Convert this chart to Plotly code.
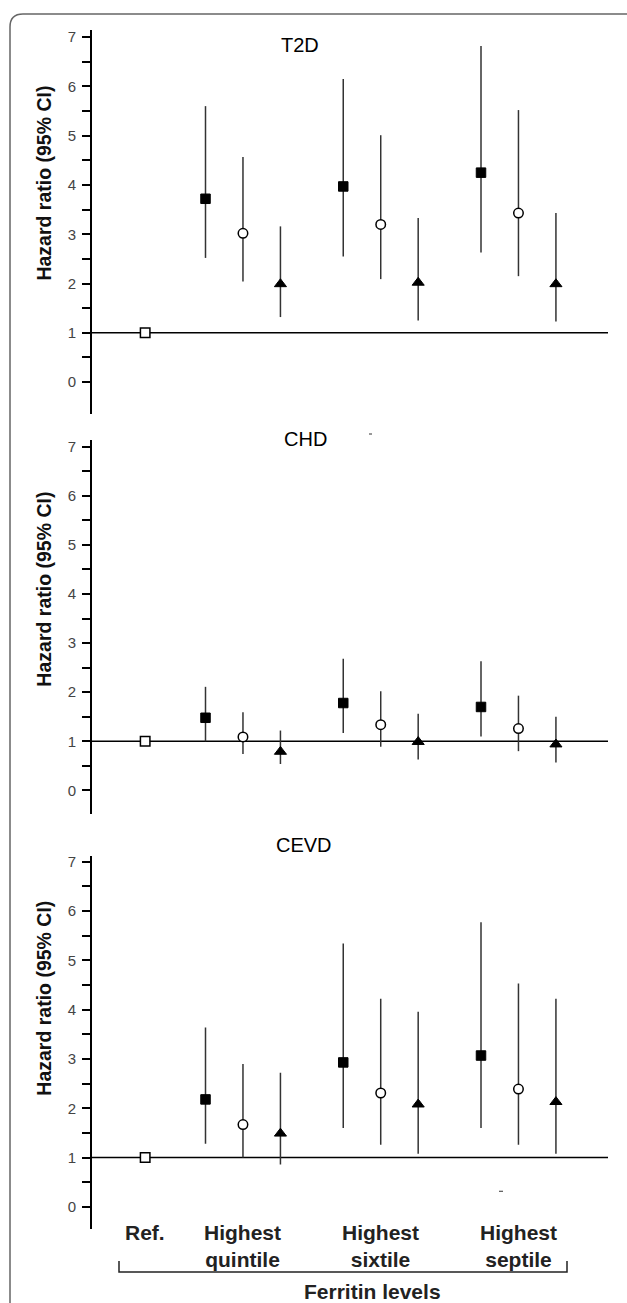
import plotly.graph_objects as go

W, H = 627, 1303

# ---------------- data ----------------
groups = ["Ref.", "Highest<br>quintile", "Highest<br>sixtile", "Highest<br>septile"]
outcomes = ["T2D", "CHD", "CEVD"]
ref_value = 1.0

# T2D
t2d_sq = [3.72, 3.97, 4.25]
t2d_sq_lo = [2.52, 2.55, 2.63]
t2d_sq_hi = [5.60, 6.15, 6.82]
t2d_ci = [3.02, 3.20, 3.43]
t2d_ci_lo = [2.04, 2.09, 2.15]
t2d_ci_hi = [4.57, 5.01, 5.52]
t2d_tr = [1.99, 2.02, 1.99]
t2d_tr_lo = [1.32, 1.25, 1.23]
t2d_tr_hi = [3.16, 3.33, 3.43]

# CHD
chd_sq = [1.48, 1.78, 1.70]
chd_sq_lo = [1.00, 1.17, 1.10]
chd_sq_hi = [2.11, 2.68, 2.63]
chd_ci = [1.09, 1.34, 1.26]
chd_ci_lo = [0.74, 0.89, 0.80]
chd_ci_hi = [1.59, 2.02, 1.93]
chd_tr = [0.79, 0.99, 0.94]
chd_tr_lo = [0.54, 0.63, 0.57]
chd_tr_hi = [1.22, 1.56, 1.50]

# CEVD
cevd_sq = [2.18, 2.93, 3.07]
cevd_sq_lo = [1.28, 1.60, 1.60]
cevd_sq_hi = [3.64, 5.34, 5.77]
cevd_ci = [1.67, 2.31, 2.39]
cevd_ci_lo = [1.00, 1.26, 1.26]
cevd_ci_hi = [2.90, 4.22, 4.53]
cevd_tr = [1.49, 2.08, 2.13]
cevd_tr_lo = [0.86, 1.08, 1.08]
cevd_tr_hi = [2.72, 3.96, 4.22]

ytick_vals = [v / 2 for v in range(0, 15)]
ytick_text = [str(int(v)) if v == int(v) else "" for v in ytick_vals]

panels = [
    [(t2d_sq, t2d_sq_lo, t2d_sq_hi), (t2d_ci, t2d_ci_lo, t2d_ci_hi), (t2d_tr, t2d_tr_lo, t2d_tr_hi)],
    [(chd_sq, chd_sq_lo, chd_sq_hi), (chd_ci, chd_ci_lo, chd_ci_hi), (chd_tr, chd_tr_lo, chd_tr_hi)],
    [(cevd_sq, cevd_sq_lo, cevd_sq_hi), (cevd_ci, cevd_ci_lo, cevd_ci_hi), (cevd_tr, cevd_tr_lo, cevd_tr_hi)],
]

# ---------------- layout constants ----------------
GROUP_POS = [0.29, 1.0, 2.0, 3.0]      # category centres on the x scale
SERIES_OFFSET = [-0.272, 0.0, 0.272]   # square, circle, triangle within a group
XRANGE = [-0.096, 3.65]
XDOM = [92 / W, 608 / W]
# (top px, bottom px, y-range)
PANEL_PX = [(27, 412, [-0.648, 7.146]),
            (438.3, 812.7, [-0.476, 7.13]),
            (855, 1229.3, [-0.457, 7.115])]
TITLE_PX = [(300, 42), (305, 437), (304, 844)]
YTITLE_PX = [181, 588, 998]

def py(p):
    return 1 - p / H

def px(p):
    return p / W

marker_styles = [
    dict(symbol="square", size=9.5, color="black", line=dict(color="black", width=1)),
    dict(symbol="circle", size=9.5, color="white", line=dict(color="black", width=1.5)),
    dict(symbol="triangle-up", size=10.5, color="black", line=dict(color="black", width=1)),
]

fig = go.Figure()
layout = dict(
    width=W, height=H,
    margin=dict(l=0, r=0, t=0, b=0),
    paper_bgcolor="white", plot_bgcolor="white",
    showlegend=False,
    font=dict(family="Arial, Liberation Sans, sans-serif", color="black"),
)
shapes = []
annotations = []

for i, series in enumerate(panels):
    k = "" if i == 0 else str(i + 1)
    xa, ya = "x" + k, "y" + k
    top, bot, yr = PANEL_PX[i]
    layout["xaxis" + k] = dict(domain=XDOM, range=XRANGE, visible=False, anchor=ya, fixedrange=True)
    layout["yaxis" + k] = dict(
        domain=[py(bot), py(top)], range=yr, anchor=xa,
        showline=True, linecolor="black", linewidth=2,
        ticks="outside", ticklen=8, tickwidth=1.5, tickcolor="black",
        tickvals=ytick_vals, ticktext=ytick_text,
        tickfont=dict(size=15, color="#444", family="Arial, Liberation Sans, sans-serif"),
        showgrid=False, zeroline=False, ticklabelstandoff=3, fixedrange=True,
    )
    # reference line at HR = 1
    shapes.append(dict(type="line", xref=xa + " domain", yref=ya, x0=0, x1=1,
                       y0=ref_value, y1=ref_value, line=dict(color="black", width=1.5),
                       layer="below"))
    for j, (vals, lo, hi) in enumerate(series):
        xs = [GROUP_POS[g + 1] + SERIES_OFFSET[j] for g in range(len(vals))]
        fig.add_trace(go.Scatter(
            x=xs, y=vals, mode="markers", xaxis=xa, yaxis=ya,
            marker=marker_styles[j],
            error_y=dict(type="data", symmetric=False,
                         array=[h - v for h, v in zip(hi, vals)],
                         arrayminus=[v - l for v, l in zip(vals, lo)],
                         width=0, thickness=1.5, color="#333"),
            cliponaxis=False,
        ))
    # reference category
    fig.add_trace(go.Scatter(
        x=[GROUP_POS[0]], y=[ref_value], mode="markers", xaxis=xa, yaxis=ya,
        marker=dict(symbol="square", size=9.5, color="white", line=dict(color="black", width=1.5)),
    ))
    tx, ty = TITLE_PX[i]
    annotations.append(dict(text=outcomes[i], x=px(tx), y=py(ty), xref="paper", yref="paper",
                            showarrow=False, xanchor="center", yanchor="middle",
                            font=dict(size=20, color="black")))
    annotations.append(dict(text="<b>Hazard ratio (95% CI)</b>", x=px(44), y=py(YTITLE_PX[i]),
                            xref="paper", yref="paper", showarrow=False, textangle=-90,
                            xanchor="center", yanchor="middle",
                            font=dict(size=19.5, color="#111")))

# category labels under the bottom panel
for g, lab in enumerate(groups):
    annotations.append(dict(text="<b>" + lab + "</b>", x=GROUP_POS[g], xref="x3",
                            y=py(1219), yref="paper", showarrow=False,
                            xanchor="center", yanchor="top", align="center",
                            font=dict(size=21, color="#222")))
annotations.append(dict(text="<b>Ferritin levels</b>", x=px(372), y=py(1291), xref="paper",
                        yref="paper", showarrow=False, xanchor="center", yanchor="middle",
                        font=dict(size=21, color="#222")))

# bracket
shapes.append(dict(type="path", xref="paper", yref="paper",
                   path=f"M {px(119)},{py(1261)} L {px(119)},{py(1272)} L {px(567)},{py(1272)} L {px(567)},{py(1261)}",
                   line=dict(color="#222", width=1.5)))
# outer rounded frame (cut by the image edges)
r = 13
shapes.append(dict(type="path", xref="paper", yref="paper",
                   path=(f"M {px(10)},{py(1320)} L {px(10)},{py(11 + r)} "
                         f"Q {px(10)},{py(11)} {px(10 + r)},{py(11)} L {px(640)},{py(11)}"),
                   line=dict(color="#666", width=1.5)))
# small stray marks in the source figure
shapes.append(dict(type="line", xref="paper", yref="paper", x0=px(369), x1=px(372),
                   y0=py(432), y1=py(432), line=dict(color="#333", width=1)))
shapes.append(dict(type="line", xref="paper", yref="paper", x0=px(499), x1=px(503),
                   y0=py(1191), y1=py(1191), line=dict(color="#333", width=1)))

layout["shapes"] = shapes
layout["annotations"] = annotations
fig.update_layout(**layout)
fig.write_html("out.html", config={"displayModeBar": False},
               post_script="document.body.style.margin='0';document.body.style.overflow='hidden';")
